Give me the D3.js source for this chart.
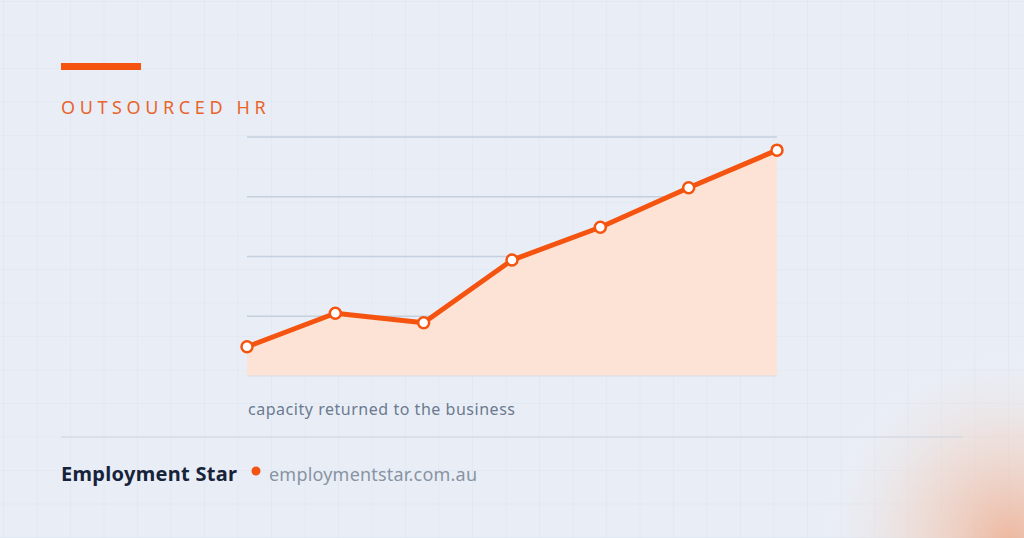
<!DOCTYPE html>
<html><head><meta charset="utf-8">
<script src="https://cdn.jsdelivr.net/npm/d3@7"></script>
<style>body{margin:0;overflow:hidden}svg{display:block}</style>
</head><body>
<script>
const steps = [0, 1, 2, 3, 4, 5, 6];
const capacity = [0.49, 1.05, 0.89, 1.94, 2.49, 3.15, 3.78];
const gridValues = [1, 2, 3, 4];

const W = 1024, H = 538;
const svg = d3.select("body").append("svg").attr("width", W).attr("height", H);
const defs = svg.append("defs");

const pat = defs.append("pattern").attr("id", "grid").attr("patternUnits", "userSpaceOnUse")
  .attr("width", 33.5).attr("height", 33.5).attr("x", 3).attr("y", 1);
pat.append("path").attr("d", "M0 0H33.5M0 0V33.5").attr("stroke", "#dbe4ef").attr("stroke-width", 1).attr("fill", "none");

const glow = defs.append("radialGradient").attr("id", "glow").attr("cx", 1010).attr("cy", 540)
  .attr("r", 200).attr("gradientUnits", "userSpaceOnUse");
glow.append("stop").attr("offset", 0).attr("stop-color", "#eeb296").attr("stop-opacity", 0.9);
glow.append("stop").attr("offset", 0.5).attr("stop-color", "#f1d0c0").attr("stop-opacity", 0.5);
glow.append("stop").attr("offset", 1).attr("stop-color", "#e9eef6").attr("stop-opacity", 0);

svg.append("rect").attr("width", W).attr("height", H).attr("fill", "#e9eef6");
svg.append("rect").attr("width", W).attr("height", H).attr("fill", "url(#grid)");
svg.append("rect").attr("width", W).attr("height", H).attr("fill", "url(#glow)");

// header
svg.append("rect").attr("x", 61).attr("y", 63).attr("width", 80).attr("height", 7).attr("fill", "#f4540f");
svg.append("text").attr("x", 61).attr("y", 114).text("OUTSOURCED HR")
  .attr("font-family", "Noto Sans").attr("font-size", 18).attr("letter-spacing", 2.4)
  .attr("textLength", 207).attr("fill", "#e9642c");

const x = d3.scaleLinear().domain([0, 6]).range([247, 777]);
const y = d3.scaleLinear().domain([0, 4]).range([376, 137]);

svg.append("g").selectAll("line").data(gridValues).join("line")
  .attr("x1", 247).attr("x2", 777).attr("y1", d => y(d)).attr("y2", d => y(d))
  .attr("stroke", "#c5d0de").attr("stroke-width", 1.3);

const pts = steps.map((s, i) => [s, capacity[i]]);
svg.append("path").datum(pts)
  .attr("d", d3.area().x(d => x(d[0])).y0(y(0)).y1(d => y(d[1])))
  .attr("fill", "#fde3d6");
svg.append("line").attr("x1", 247).attr("x2", 777).attr("y1", y(0)).attr("y2", y(0))
  .attr("stroke", "#d6dbe3").attr("stroke-width", 1);
svg.append("path").datum(pts)
  .attr("d", d3.line().x(d => x(d[0])).y(d => y(d[1])))
  .attr("fill", "none").attr("stroke", "#f4540f").attr("stroke-width", 5).attr("stroke-linejoin", "round");
svg.append("g").selectAll("circle").data(pts).join("circle")
  .attr("cx", d => x(d[0])).attr("cy", d => y(d[1])).attr("r", 5.5)
  .attr("fill", "#fff").attr("stroke", "#f4540f").attr("stroke-width", 2.5);

svg.append("text").attr("x", 248).attr("y", 415).text("capacity returned to the business")
  .attr("font-family", "Noto Sans").attr("font-size", 16).attr("textLength", 267).attr("fill", "#6b7a90");

svg.append("line").attr("x1", 61).attr("x2", 963).attr("y1", 437).attr("y2", 437)
  .attr("stroke", "#cdd5df").attr("stroke-width", 1);

svg.append("text").attr("x", 61).attr("y", 481).text("Employment Star")
  .attr("font-family", "Noto Sans").attr("font-weight", 700).attr("font-size", 20)
  .attr("textLength", 176).attr("fill", "#16233a");
svg.append("circle").attr("cx", 256).attr("cy", 471).attr("r", 4.5).attr("fill", "#f4540f");
svg.append("text").attr("x", 269).attr("y", 481).text("employmentstar.com.au")
  .attr("font-family", "Noto Sans").attr("font-size", 18).attr("textLength", 208).attr("fill", "#8893a3");
</script>
</body></html>
